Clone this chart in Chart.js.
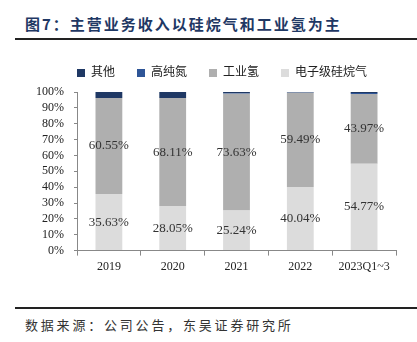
<!DOCTYPE html>
<html lang="zh-CN">
<head>
<meta charset="UTF-8" />
<title>主营业务收入构成</title>
<script src="https://cdn.jsdelivr.net/npm/chart.js"></script>
<style>
  body { margin: 0; background: #fff; }
  .page { position: relative; width: 417px; height: 342px; overflow: hidden; }
  .title {
    position: absolute; left: 25px; top: 13px;
    font: bold 15px "Noto Sans CJK SC", sans-serif; letter-spacing: 2px;
    color: #1f3864; white-space: nowrap;
  }
  .rule { position: absolute; left: 15px; right: 0; height: 2px; background: #222; }
  .source {
    position: absolute; left: 25px; top: 315px;
    font: 13px "Noto Sans CJK SC", sans-serif; letter-spacing: 2.8px;
    color: #333; white-space: nowrap;
  }
  canvas { position: absolute; left: 0; top: 0; }
</style>
</head>
<body>
<div class="page">
  <div class="title">图7：主营业务收入以硅烷气和工业氢为主</div>
  <div class="rule" style="top:38px"></div>
  <div class="rule" style="top:307px"></div>
  <div class="source">数据来源：公司公告，东吴证券研究所</div>
  <canvas id="chart" width="417" height="342"></canvas>
</div>
<script>
  const categories = ['2019', '2020', '2021', '2022', '2023Q1~3'];
  // shares of revenue, %
  const silane = [35.63, 28.05, 25.24, 40.04, 54.77];
  const hydrogen = [60.55, 68.11, 73.63, 59.49, 43.97];
  const nitrogen = [0, 0, 0.33, 0.17, 0.56];
  const other = [3.82, 3.84, 0.80, 0.30, 0.70];

  const serif = "'Liberation Serif', 'Times New Roman', serif";
  const legendFont = "'Liberation Serif', 'Noto Sans CJK SC', serif";

  // value labels in the middle of the two big segments
  const segmentLabels = {
    id: 'segmentLabels',
    afterDatasetsDraw(chart) {
      const ctx = chart.ctx;
      ctx.save();
      ctx.font = '13px ' + serif;
      ctx.fillStyle = '#333';
      ctx.textAlign = 'center';
      ctx.textBaseline = 'middle';
      chart.data.datasets.forEach((ds, i) => {
        if (!ds.showLabel) return;
        chart.getDatasetMeta(i).data.forEach((bar, j) => {
          const y = (bar.y + bar.base) / 2;
          ctx.fillText(ds.data[j].toFixed(2) + '%', bar.x, y);
        });
      });
      ctx.restore();
    }
  };

  // legend row sits close to the plot and starts over the y axis
  const legendPlacement = {
    id: 'legendPlacement',
    beforeInit(chart) {
      const fit = chart.legend.fit;
      chart.legend.fit = function () {
        fit.bind(chart.legend)();
        this.height = 47;
      };
    },
    beforeDraw(chart) {
      chart.legend.left = 55;
    }
  };

  new Chart(document.getElementById('chart'), {
    type: 'bar',
    data: {
      labels: categories,
      datasets: [
        { label: '电子级硅烷气', data: silane, backgroundColor: '#dcdcdc', showLabel: true },
        { label: '工业氢', data: hydrogen, backgroundColor: '#afafaf', showLabel: true },
        { label: '高纯氮', data: nitrogen, backgroundColor: '#2e5597' },
        { label: '其他', data: other, backgroundColor: '#1f3864' }
      ]
    },
    options: {
      responsive: false,
      animation: false,
      layout: { padding: { left: 0, right: 21, top: 45, bottom: 64 } },
      datasets: { bar: { categoryPercentage: 1, barPercentage: 0.42 } },
      scales: {
        x: {
          stacked: true,
          border: { color: '#888' },
          grid: { drawOnChartArea: false, tickLength: 5, color: '#888' },
          ticks: { color: '#222', font: { size: 12, family: serif }, padding: 4 }
        },
        y: {
          stacked: true,
          min: 0, max: 100,
          border: { color: '#888' },
          grid: { drawOnChartArea: false, tickLength: 3, color: '#888' },
          ticks: {
            stepSize: 10, autoSkip: false, color: '#222', padding: 10,
            font: { size: 12, family: serif },
            callback: v => v + '%'
          },
          afterFit(axis) { axis.width = 77; }
        }
      },
      plugins: {
        legend: {
          position: 'top',
          align: 'start',
          labels: {
            boxWidth: 8, boxHeight: 8, padding: 22,
            color: '#222',
            font: { size: 12, family: legendFont },
            sort: (a, b) => b.datasetIndex - a.datasetIndex
          }
        },
        tooltip: { enabled: false }
      }
    },
    plugins: [segmentLabels, legendPlacement]
  });
</script>
</body>
</html>
